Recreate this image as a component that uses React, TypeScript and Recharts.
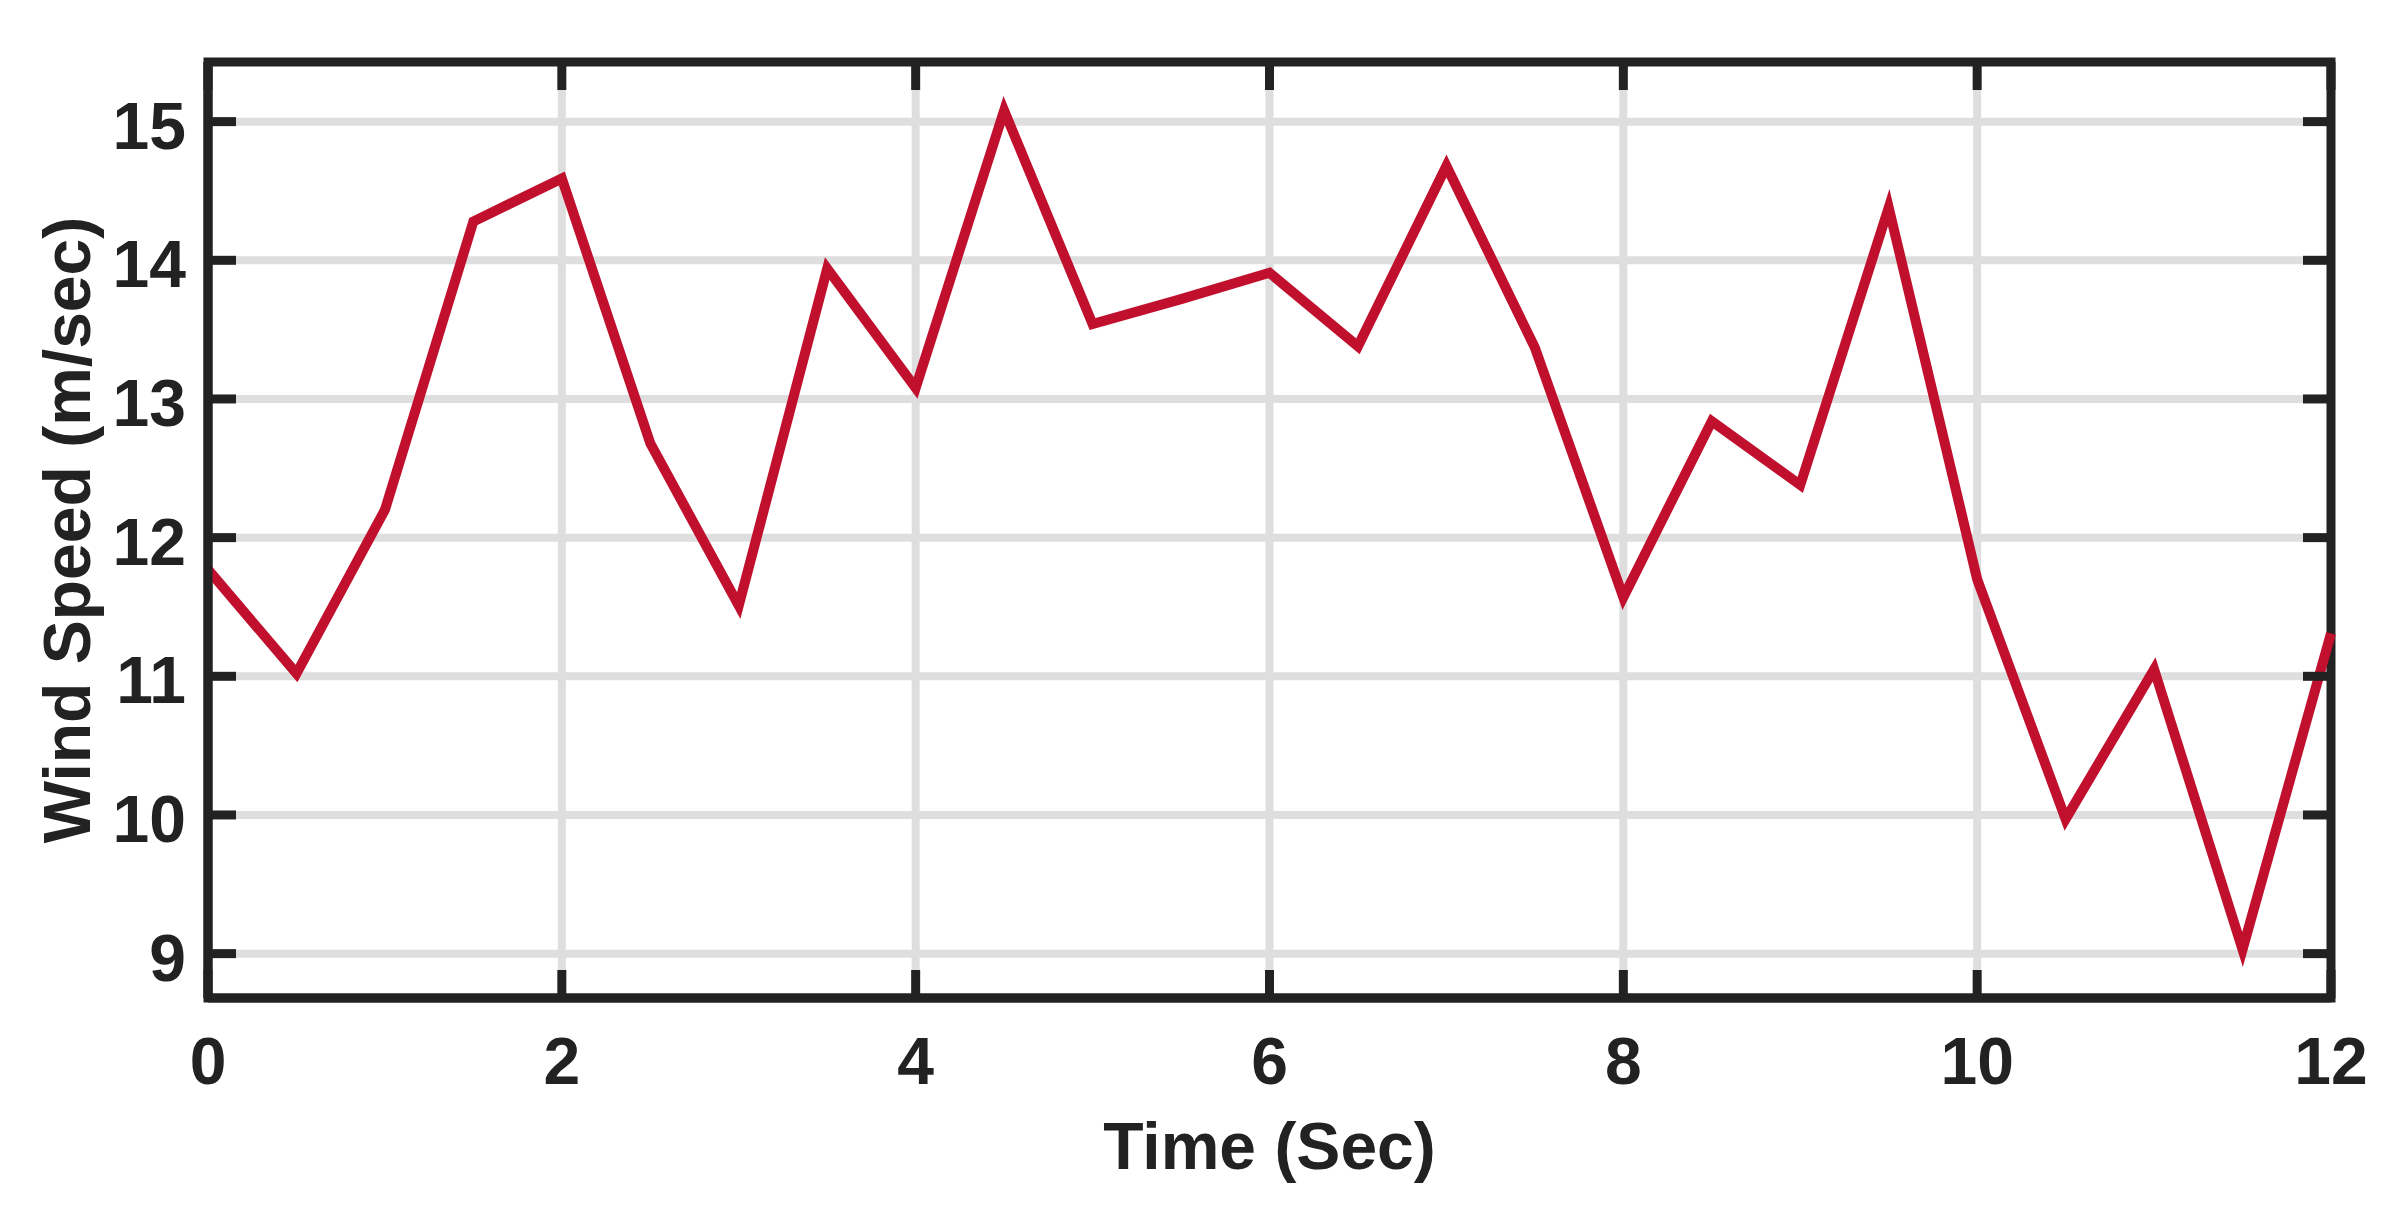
import { LineChart, Line, XAxis, YAxis, CartesianGrid, ReferenceArea } from "recharts";

// time samples (sec) and measured wind speed (m/sec)
const time = [0, 0.5, 1, 1.5, 2, 2.5, 3, 3.5, 4, 4.5, 5, 5.5, 6, 6.5, 7, 7.5, 8, 8.5, 9, 9.5, 10, 10.5, 11, 11.5, 12];
const windSpeed = [
  11.77, 11.02, 12.2, 14.28, 14.59, 12.68, 11.51, 13.94, 13.08, 15.08, 13.54, 13.72, 13.91,
  13.38, 14.68, 13.37, 11.57, 12.84, 12.38, 14.38, 11.7, 9.97, 11.05, 9.03, 11.31,
];
const xTicks = [0, 2, 4, 6, 8, 10, 12];
const yTicks = [9, 10, 11, 12, 13, 14, 15];
const xDomain = [0, 12];
const yDomain = [8.68, 15.43];

const INK = "#222222";
const FONT = "'Liberation Sans', Arial, sans-serif";
const FONT_SIZE = 66;
const TICK_LEN = 28;

// plot box size (used to mirror tick marks onto the opposite frame side)
const CHART_W = 2381;
const CHART_H = 1205;
const MARGIN = { top: 62, right: 50, bottom: 0, left: 0 };
const Y_AXIS_W = 208;
const X_AXIS_H = 207;
const PLOT_W = CHART_W - MARGIN.left - MARGIN.right - Y_AXIS_W;
const PLOT_H = CHART_H - MARGIN.top - MARGIN.bottom - X_AXIS_H;

const data = time.map((t, i) => ({ t, speed: windSpeed[i] }));

const LeftTick = (props: any) => {
  const { x, y, payload } = props;
  return (
    <g>
      <line x1={x} y1={y} x2={x + TICK_LEN} y2={y} stroke={INK} strokeWidth={9} />
      <line x1={x + PLOT_W} y1={y} x2={x + PLOT_W - TICK_LEN} y2={y} stroke={INK} strokeWidth={9} />
      <text
        x={x - 22}
        y={y + 27}
        textAnchor="end"
        fill={INK}
        fontFamily={FONT}
        fontWeight="bold"
        fontSize={FONT_SIZE}
      >
        {payload.value}
      </text>
    </g>
  );
};

const BottomTick = (props: any) => {
  const { x, y, payload } = props;
  return (
    <g>
      <line x1={x} y1={y} x2={x} y2={y - TICK_LEN} stroke={INK} strokeWidth={9} />
      <line x1={x} y1={y - PLOT_H} x2={x} y2={y - PLOT_H + TICK_LEN} stroke={INK} strokeWidth={9} />
      <text
        x={x}
        y={y + 86}
        textAnchor="middle"
        fill={INK}
        fontFamily={FONT}
        fontWeight="bold"
        fontSize={FONT_SIZE}
      >
        {payload.value}
      </text>
    </g>
  );
};

export default function App() {
  return (
    <div style={{ position: "absolute", left: 0, top: 0, background: "#fff" }}>
      <LineChart width={CHART_W} height={CHART_H} data={data} margin={MARGIN}>
        <CartesianGrid stroke="#dedede" strokeWidth={8} />
        <XAxis
          dataKey="t"
          type="number"
          domain={xDomain}
          ticks={xTicks}
          height={X_AXIS_H}
          tickSize={0}
          tickMargin={0}
          tickLine={false}
          axisLine={{ stroke: INK, strokeWidth: 9 }}
          tick={BottomTick}
          label={{
            value: "Time (Sec)",
            position: "insideTop",
            offset: 124,
            fill: INK,
            fontFamily: FONT,
            fontWeight: "bold",
            fontSize: FONT_SIZE,
          }}
        />
        <YAxis
          type="number"
          domain={yDomain}
          allowDataOverflow
          ticks={yTicks}
          width={Y_AXIS_W}
          tickSize={0}
          tickMargin={0}
          tickLine={false}
          axisLine={{ stroke: INK, strokeWidth: 9 }}
          tick={LeftTick}
          label={{
            value: "Wind Speed (m/sec)",
            angle: -90,
            position: "insideLeft",
            offset: 67,
            fill: INK,
            fontFamily: FONT,
            fontWeight: "bold",
            fontSize: FONT_SIZE,
            style: { textAnchor: "middle" },
          }}
        />
        <Line
          type="linear"
          dataKey="speed"
          stroke="#c1102e"
          strokeWidth={10}
          dot={false}
          isAnimationActive={false}
        />
        <ReferenceArea
          x1={xDomain[0]}
          x2={xDomain[1]}
          y1={yDomain[0]}
          y2={yDomain[1]}
          fill="none"
          stroke={INK}
          strokeWidth={9}
          ifOverflow="visible"
        />
      </LineChart>
    </div>
  );
}
